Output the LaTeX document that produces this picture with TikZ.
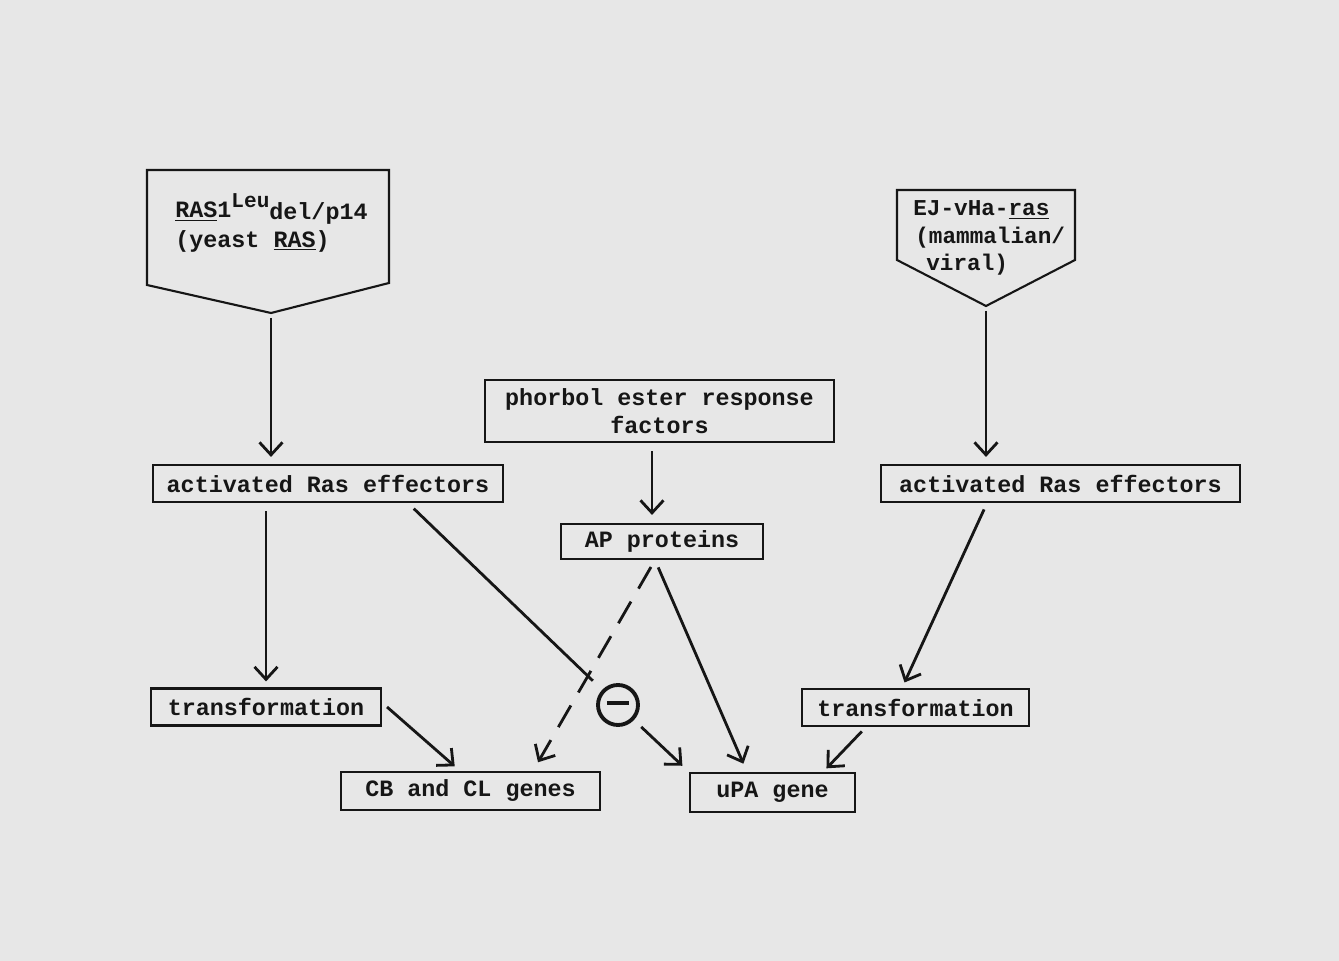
\documentclass[tikz,border=0pt]{standalone}
\usepackage{fontspec}
\setmonofont{Liberation Mono}
\usetikzlibrary{arrows.meta}

\definecolor{paper}{RGB}{231,231,231}
\definecolor{ink}{RGB}{22,22,22}

\def \lineWidth {1.6pt}
\def \boxWidth {1.2pt}

\tikzset{
  >={Straight Barb[length=2.5mm,width=4.6mm]},
  box/.style={draw=ink, line width=\boxWidth, inner sep=0.1cm, minimum height=0.74cm,
    font=\ttfamily\bfseries\fontsize{13.3}{16}\selectfont, text=ink},
  label/.style={inner sep=0pt, align=left, text=ink,
    font=\ttfamily\bfseries\fontsize{13.3}{16}\selectfont},
  conn/.style={->, draw=ink, line width=\lineWidth},
}

\begin{document}
\begin{tikzpicture}
         \fill[paper] (0, 0) rectangle (26.78, 19.22);
         \useasboundingbox (0, 0) rectangle (26.78, 19.22);

         % the two ras sources
         \draw[draw=ink, line width=\boxWidth] (2.94, 15.82) -- (7.78, 15.82) -- (7.78, 13.56)
            -- (5.42, 12.96) coordinate (yeastTip) -- (2.94, 13.52) -- cycle;
         \node[label, anchor=west] (yeastRas) at (3.5, 14.76)
            {\underline{RAS}1\raisebox{0.75ex}{\fontsize{12}{14}\selectfont Leu}\raisebox{-0.15ex}{del/p14}\\[1pt](yeast \underline{RAS})};
         \draw[draw=ink, line width=\boxWidth] (17.94, 15.42) -- (21.5, 15.42) -- (21.5, 14.02)
            -- (19.72, 13.1) coordinate (viralTip) -- (17.94, 14.02) -- cycle;
         \node[label, anchor=west, font=\ttfamily\bfseries\fontsize{12.9}{15.6}\selectfont] (viralRas) at (18.26, 14.46)
            {EJ-vHa-\underline{ras}\\\hspace{0.04cm}(mammalian/\\\hspace{0.26cm}viral)};

         \node[box, minimum width=7cm] (effLeft) at (6.56, 9.55) {activated Ras effectors};
         \node[box, minimum width=7.18cm] (effRight) at (21.21, 9.55) {activated Ras effectors};
         \node[box, minimum width=6.98cm, minimum height=1.24cm, align=center] (phorbol) at (13.19, 11)
            {phorbol ester response\\factors};
         \node[box, minimum width=4.04cm, minimum height=0.7cm] (apProt) at (13.24, 8.39) {AP proteins};
         \node[box, minimum width=4.6cm] (transLeft) at (5.32, 5.08) {transformation};
         \node[box, minimum width=4.54cm] (transRight) at (18.31, 5.07) {transformation};
         \node[box, minimum width=5.18cm, minimum height=0.76cm] (cbGenes) at (9.41, 3.4) {CB and CL genes};
         \node[box, minimum width=3.3cm, minimum height=0.78cm] (upaGene) at (15.45, 3.37) {uPA gene};
         \node[circle, draw=ink, line width=2.2pt, minimum size=0.8cm, inner sep=0pt] (minus) at (12.36, 5.12)
            {\color{ink}\rule[0.45ex]{0.45cm}{2.2pt}};

         % connectors
         \draw[conn, shorten <=0.1cm, shorten >=0.14cm] (yeastTip) -- (yeastTip |- effLeft.north);
         \draw[conn, shorten <=0.1cm, shorten >=0.14cm] (viralTip) -- (viralTip |- effRight.north);
         \draw[conn, shorten <=0.16cm, shorten >=0.12cm] (transLeft.north |- effLeft.south) -- (transLeft.north);
         \draw[draw=ink, line width=\lineWidth, shorten <=0.16cm, shorten >=0.26cm] ([xshift=1.6cm]effLeft.south) -- (minus);
         \draw[conn, shorten <=0.2cm, shorten >=0.18cm] (minus) -- (upaGene.north west);
         \draw[conn, shorten <=0.16cm, shorten >=0.16cm] ([xshift=-0.15cm]phorbol.south) -- ([xshift=-0.15cm]phorbol.south |- apProt.north);
         \draw[conn, dash pattern=on 0.5cm off 0.3cm, shorten <=0.16cm, shorten >=0.2cm] ([xshift=-0.14cm]apProt.south) -- ([xshift=1.25cm]cbGenes.north);
         \draw[conn, shorten <=0.16cm, shorten >=0.18cm] ([xshift=-0.14cm]apProt.south) -- ([xshift=-0.51cm]upaGene.north);
         \draw[conn, shorten <=0.14cm, shorten >=0.12cm] ([xshift=-1.47cm]effRight.south) -- ([xshift=-0.27cm]transRight.north);
         \draw[conn, shorten >=0.14cm] ([xshift=0.1cm]transLeft.east) -- ([xshift=-0.21cm]cbGenes.north);
         \draw[conn, shorten <=0.12cm, shorten >=0.1cm] ([xshift=-0.99cm]transRight.south) -- ([xshift=1.01cm]upaGene.north);
      \end{tikzpicture}
\end{document}
